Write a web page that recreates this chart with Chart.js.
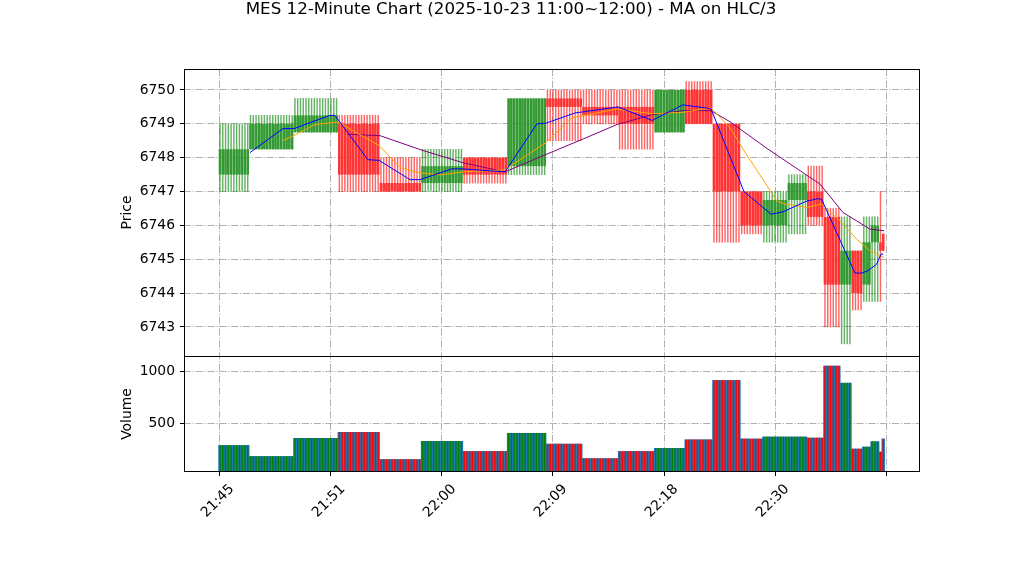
<!DOCTYPE html>
<html><head><meta charset="utf-8">
<script src="https://cdn.jsdelivr.net/npm/chart.js@4.4.1/dist/chart.umd.min.js"></script>
<style>html,body{margin:0;padding:0;background:#fff;}#wrap{width:1022px;height:575px;}</style>
</head><body><div id="wrap"><canvas id="c" width="1022" height="575"></canvas></div>
<script>
const titleText = 'MES 12-Minute Chart (2025-10-23 11:00~12:00) - MA on HLC/3';
const tickIndex = [0, 40, 80, 120, 160, 200, 240];
const tickLabels = ['21:45', '21:51', '22:00', '22:09', '22:18', '22:30', ''];
const priceTicks = [6743, 6744, 6745, 6746, 6747, 6748, 6749, 6750];
const volumeTicks = [500, 1000];

// candle blocks (row ranges sharing the same 12-minute OHLCV)
const blockFirst = [0, 11, 27, 43, 58, 73, 88, 104, 118, 131, 144, 157, 168, 178, 188, 196, 205, 212, 218, 224, 228, 232, 235, 238, 239];
const blockLast  = [10, 26, 42, 57, 72, 87, 103, 117, 130, 143, 156, 167, 177, 187, 195, 204, 211, 217, 223, 227, 231, 234, 237, 238, 239];
const opens  = [6747.5, 6748.25, 6748.75, 6749, 6747.25, 6747.25, 6748, 6747.75, 6749.75, 6749.5, 6749.5, 6748.75, 6750, 6749, 6747, 6746, 6746.75, 6747, 6746.25, 6744.25, 6745.25, 6744.25, 6745.5, 6745.5, 6745.75];
const highs  = [6749, 6749.25, 6749.75, 6749.25, 6748, 6748.25, 6748, 6749.75, 6750, 6750, 6750, 6750, 6750.25, 6749, 6747, 6747, 6747.5, 6747.75, 6746.5, 6746.25, 6745.25, 6746.25, 6746.25, 6747, 6745.75];
const lows   = [6747, 6748.25, 6748.75, 6747, 6747, 6747, 6747.25, 6747.5, 6748.5, 6749, 6748.25, 6748.75, 6749, 6745.5, 6745.75, 6745.5, 6745.75, 6746, 6743, 6742.5, 6743.5, 6743.75, 6743.75, 6743.75, 6745.25];
const closes = [6748.25, 6749, 6749.25, 6747.5, 6747, 6747.75, 6747.5, 6749.75, 6749.5, 6749.25, 6749, 6750, 6749, 6747, 6746, 6746.75, 6747.25, 6746.25, 6744.25, 6745.25, 6744, 6745.5, 6746, 6745.25, 6745.25];
const volumes = [291, 186, 359, 416, 157, 330, 234, 407, 304, 166, 234, 263, 345, 911, 353, 372, 372, 362, 1048, 885, 257, 276, 327, 228, 353];

// moving averages (row index, value)
const maFastX = [10.8, 22.7, 26.7, 39.6, 41.4, 53.3, 57.3, 68.5, 72.1, 83.6, 87.2, 102.7, 114.2, 117.5, 127.9, 130.5, 143.4, 155.7, 166.8, 176.9, 188.8, 198.6, 202.9, 211.2, 215.5, 216.8, 228.8, 231.2, 233.5, 236.6, 238.2, 239];
const maFastY = [6748.15, 6748.86, 6748.86, 6749.25, 6749.25, 6747.94, 6747.92, 6747.35, 6747.35, 6747.67, 6747.67, 6747.58, 6749.0, 6749.02, 6749.32, 6749.35, 6749.5, 6749.1, 6749.56, 6749.45, 6747.0, 6746.33, 6746.4, 6746.71, 6746.79, 6746.77, 6744.59, 6744.59, 6744.66, 6744.85, 6745.15, 6745.15];
const maMidX = [22.7, 26.3, 34.2, 42.5, 57.3, 64.9, 71.4, 79.3, 87.6, 102.7, 117.5, 126.8, 130.5, 143.1, 155.7, 166.8, 176.9, 183.8, 188.5, 200.7, 203.6, 211.5, 216.8, 223.4, 229.5, 234.2, 239.3];
const maMidY = [6748.51, 6748.64, 6748.98, 6749.05, 6748.36, 6747.71, 6747.56, 6747.49, 6747.58, 6747.64, 6748.45, 6749.18, 6749.23, 6749.44, 6749.3, 6749.34, 6749.47, 6748.88, 6748.25, 6746.72, 6746.63, 6746.53, 6746.63, 6746.13, 6745.59, 6745.25, 6745.05];
const maSlowX = [46.1, 57.7, 72.8, 87.6, 102.7, 115.3, 130.5, 143.1, 155.7, 166.8, 176.9, 183.8, 197.5, 216.2, 224.5, 234.2, 239.3];
const maSlowY = [6748.69, 6748.65, 6748.22, 6747.85, 6747.58, 6748.02, 6748.54, 6748.98, 6749.27, 6749.39, 6749.39, 6749.06, 6748.25, 6747.22, 6746.38, 6745.89, 6745.84];

const UP_BODY = 'rgb(51,153,51)', DN_BODY = 'rgb(255,51,51)';
const UP_WICK = 'rgba(0,128,0,0.6)', DN_WICK = 'rgba(255,0,0,0.6)';
const FONT = 'DejaVu Sans';

const bodyData = [], wickData = [], volData = [], stripeData = [], bodyCol = [], wickCol = [], stripeCol = [];
blockFirst.forEach((first, k) => {
  const up = closes[k] >= opens[k];
  for (let i = first; i <= blockLast[k]; i++) {
    bodyData.push({x: i, y: [opens[k], closes[k]]});
    wickData.push({x: i, y: [lows[k], highs[k]]});
    volData.push({x: i, y: volumes[k]});
    stripeData.push({x: i, y: volumes[k]});
    bodyCol.push(up ? UP_BODY : DN_BODY);
    wickCol.push(up ? UP_WICK : DN_WICK);
    stripeCol.push(up ? 'green' : 'red');
  }
});
const pts = (xs, ys) => xs.map((x, i) => ({x, y: ys[i]}));

const GRID = {color: '#b0b0b0', lineWidth: 1, tickColor: '#000', tickLength: 4, tickWidth: 1, tickBorderDash: []};
const BORDER = {display: false, dash: [7, 1.8, 1.2, 1.8]};
const tickFont = {family: FONT, size: 13.9};

const frames = {
  id: 'frames',
  afterDraw(chart) {
    const {ctx, chartArea: a} = chart;
    const yb = Math.round(chart.scales.y.bottom) + 0.5;
    const l = Math.round(a.left) + 0.5, r = Math.round(a.right) - 0.5;
    const t = Math.round(a.top) + 0.5, b = Math.round(a.bottom) - 0.5;
    ctx.save();
    ctx.strokeStyle = '#000'; ctx.lineWidth = 1;
    ctx.strokeRect(l, t, r - l, b - t);
    ctx.beginPath(); ctx.moveTo(l, yb); ctx.lineTo(r, yb); ctx.stroke();
    ctx.fillStyle = '#000';
    ctx.font = '16.7px "' + FONT + '"';
    ctx.textAlign = 'center'; ctx.textBaseline = 'middle';
    ctx.fillText(titleText, chart.width / 2, 10);
    ctx.restore();
  }
};

new Chart(document.getElementById('c'), {
  data: {
    datasets: [
      {type: 'line', data: pts(maFastX, maFastY), yAxisID: 'y', borderColor: 'blue', borderWidth: 1, pointRadius: 0, tension: 0, order: 0},
      {type: 'line', data: pts(maMidX, maMidY), yAxisID: 'y', borderColor: 'orange', borderWidth: 1, pointRadius: 0, tension: 0, order: 0},
      {type: 'line', data: pts(maSlowX, maSlowY), yAxisID: 'y', borderColor: 'purple', borderWidth: 1, pointRadius: 0, tension: 0, order: 0},
      {type: 'bar', data: bodyData, yAxisID: 'y', backgroundColor: bodyCol, grouped: false, barPercentage: 0.93, categoryPercentage: 1, order: 1},
      {type: 'bar', data: wickData, yAxisID: 'y', backgroundColor: wickCol, grouped: false, barThickness: 0.8, order: 2},
      {type: 'bar', data: stripeData, yAxisID: 'vol', backgroundColor: stripeCol, grouped: false, barThickness: 0.75, order: 3},
      {type: 'bar', data: volData, yAxisID: 'vol', backgroundColor: '#1f77b4', grouped: false, barPercentage: 1, categoryPercentage: 1, order: 4}
    ]
  },
  options: {
    responsive: false, animation: false, events: [],
    layout: {padding: {left: 0, right: 102, top: 69, bottom: 0}},
    plugins: {legend: {display: false}, tooltip: {enabled: false}, title: {display: false}},
    scales: {
      x: {
        type: 'linear', position: 'bottom', min: -12.97, max: 252.25, offset: false,
        afterBuildTicks: s => { s.ticks = tickIndex.map(v => ({value: v})); },
        afterFit: s => { s.height = 103; },
        grid: {...GRID, offset: false}, border: BORDER,
        ticks: {autoSkip: false, minRotation: 45, maxRotation: 45, padding: 5, labelOffset: 12, color: '#000', font: tickFont,
          callback: v => { const k = tickIndex.indexOf(v); return k >= 0 ? tickLabels[k] : ''; }}
      },
      y: {
        type: 'linear', position: 'left', stack: 'panels', stackWeight: 287, weight: 2,
        min: 6742.14, max: 6750.62,
        afterBuildTicks: s => { s.ticks = priceTicks.map(v => ({value: v})); },
        afterFit: s => { s.width = 184; },
        grid: GRID, border: BORDER,
        title: {display: true, text: 'Price', color: '#000', font: {family: FONT, size: 13.9}, padding: {top: 119, bottom: 0}},
        ticks: {color: '#000', font: tickFont, padding: 5, callback: v => String(v)}
      },
      vol: {
        type: 'linear', position: 'left', stack: 'panels', stackWeight: 116, weight: 1,
        min: 38, max: 1144,
        afterBuildTicks: s => { s.ticks = volumeTicks.map(v => ({value: v})); },
        afterFit: s => { s.width = 184; },
        grid: GRID, border: BORDER,
        title: {display: true, text: 'Volume', color: '#000', font: {family: FONT, size: 13.9}, padding: {top: 119, bottom: 0}},
        ticks: {color: '#000', font: tickFont, padding: 5, callback: v => String(v)}
      }
    }
  },
  plugins: [frames]
});
</script></body></html>
